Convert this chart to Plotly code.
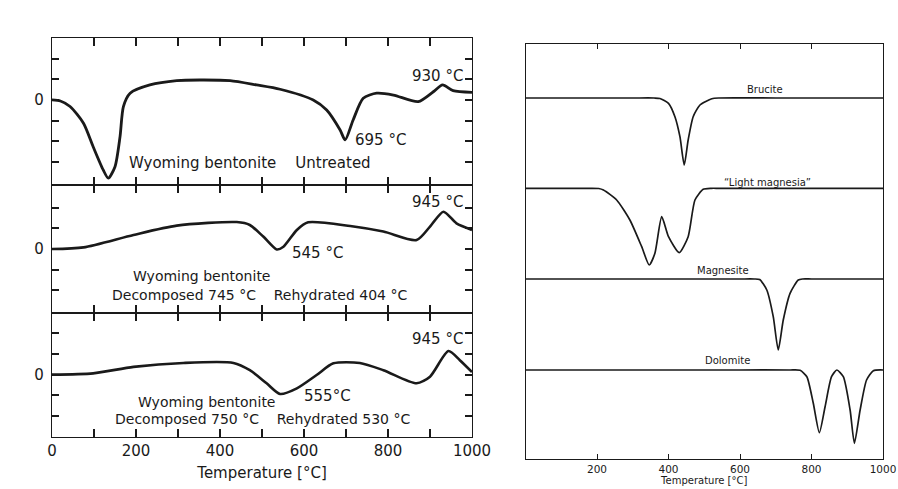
import plotly.graph_objects as go

# ---------------- Left panel: Wyoming bentonite DTA curves ----------------
untreated_t = [0, 20, 43, 75, 98, 122, 134, 150, 162, 170, 186, 233, 297, 352, 424, 487,
               543, 622, 654, 686, 698, 717, 741, 773, 813, 872, 908, 930, 955, 1000]
untreated_v = [0, -0.05, -0.32, -1.13, -2.27, -3.4, -3.8, -3.24, -1.78, -0.32, 0.33, 0.73, 0.94, 0.97, 0.94, 0.73,
               0.52, 0.0, -0.49, -1.46, -1.94, -0.97, 0.08, 0.33, 0.24, -0.08, 0.4, 0.73, 0.45, 0.37]

dec745_t = [0, 75, 194, 297, 440, 471, 503, 535, 551, 583, 610, 710, 789, 868, 900, 932, 963, 1000]
dec745_v = [0, 0.08, 0.68, 1.13, 1.3, 1.16, 0.6, -0.02, 0.11, 0.92, 1.29, 1.11, 0.84, 0.43, 1.08, 1.8, 1.24, 0.92]

dec750_t = [0, 98, 194, 313, 432, 471, 511, 543, 583, 630, 670, 733, 789, 868, 900, 944, 971, 1000]
dec750_v = [0, 0.06, 0.37, 0.56, 0.56, 0.21, -0.42, -0.93, -0.66, -0.02, 0.54, 0.56, 0.21, -0.42, -0.1, 1.13, 0.69, 0.12]

# ---------------- Right panel: reference minerals ----------------
brucite_t = [0, 150, 300, 360, 376, 400, 418, 432, 444, 455, 469, 488, 521, 540, 700, 1000]
brucite_v = [361, 361, 361, 361, 360.5, 355.7, 342.3, 322.3, 294, 319, 342.3, 354, 360.2, 361, 361, 361]

magnesia_t = [0, 100, 180, 205, 218, 255, 292, 325, 346, 362, 381, 400, 430, 455, 474, 497, 520, 540, 700, 1000]
magnesia_v = [270.7, 270.7, 270.7, 270.5, 269, 259, 239, 212.3, 194, 205.7, 242.3, 222.3, 206.3, 222.3,
              259, 269.7, 270.7, 270.7, 270.7, 270.7]

magnesite_t = [0, 200, 400, 600, 640, 655, 675, 693, 707, 721, 740, 763, 775, 800, 1000]
magnesite_v = [180, 180, 180, 180, 180, 179.5, 169, 142.3, 109, 139, 165.7, 179, 180, 180, 180]

dolomite_t = [0, 200, 400, 600, 740, 768, 787, 805, 822, 838, 856, 871, 889, 908, 920, 936, 954, 973, 1000]
dolomite_v = [89, 89, 89, 89, 89, 88.7, 82.3, 55.7, 26.3, 52.3, 82.3, 89, 82.3, 49, 15.7, 49, 79, 88.3, 89]

left_ticks = [0, 100, 200, 300, 400, 500, 600, 700, 800, 900, 1000]
left_ticktext = ["0", "", "200", "", "400", "", "600", "", "800", "", "1000"]
right_ticks = [200, 400, 600, 800, 1000]
right_ticktext = ["200", "400", "600", "800", "1000"]

FONT = "DejaVu Sans"
INK = "#1a1a1a"

fig = go.Figure()

def add_curve(x, y, xa, ya, width, name, smooth):
    fig.add_trace(go.Scatter(x=x, y=y, xaxis=xa, yaxis=ya, mode="lines", name=name,
                             line=dict(color=INK, width=width, shape="spline", smoothing=smooth),
                             hoverinfo="x+y+name"))

add_curve(untreated_t, untreated_v, "x", "y", 2.8, "Untreated", 0.7)
add_curve(dec745_t, dec745_v, "x2", "y2", 2.6, "Decomposed 745 °C, Rehydrated 404 °C", 0.7)
add_curve(dec750_t, dec750_v, "x3", "y3", 2.6, "Decomposed 750 °C, Rehydrated 530 °C", 0.7)
add_curve(brucite_t, brucite_v, "x4", "y4", 1.7, "Brucite", 0.6)
add_curve(magnesia_t, magnesia_v, "x4", "y4", 1.7, "Light magnesia", 0.6)
add_curve(magnesite_t, magnesite_v, "x4", "y4", 1.7, "Magnesite", 0.6)
add_curve(dolomite_t, dolomite_v, "x4", "y4", 1.7, "Dolomite", 0.6)

# full-window figure; the page's default body margin is removed below
W, H = 898, 489
def dx(a, b):
    return [a / W, b / W]
def dy(top, bot):
    return [1 - bot / H, 1 - top / H]

left_dom = dx(52, 472)
xcommon = dict(range=[0, 1000], showgrid=False, zeroline=False, showline=True, linecolor=INK,
               linewidth=1.2, mirror="ticks", ticks="inside", ticklen=8, tickwidth=1.5,
               tickcolor=INK, tickvals=left_ticks, ticktext=left_ticktext, automargin=False)
ycommon = dict(showgrid=False, zeroline=False, showline=True, linecolor=INK, linewidth=1.2,
               mirror="ticks", ticks="inside", ticklen=7, tickwidth=1.5, tickcolor=INK,
               tickfont=dict(family=FONT, size=15, color=INK), ticklabelstandoff=4, automargin=False)

fig.update_layout(
    width=W, height=H, margin=dict(l=0, r=0, t=0, b=0),
    paper_bgcolor="white", plot_bgcolor="white", showlegend=False,
    font=dict(family=FONT, color=INK),
    xaxis=dict(domain=left_dom, anchor="y", showticklabels=False, **xcommon),
    xaxis2=dict(domain=left_dom, anchor="y2", showticklabels=False, **xcommon),
    xaxis3=dict(domain=left_dom, anchor="y3", showticklabels=True, ticklabeloverflow="allow",
                tickfont=dict(family=FONT, size=15, color=INK),
                title=dict(text="Temperature [°C]", font=dict(family=FONT, size=15, color=INK), standoff=8),
                **xcommon),
    yaxis=dict(domain=dy(38, 185), anchor="x", range=[-4.13, 3.01],
               tickvals=[-3, -2, -1, 0, 1, 2], ticktext=["", "", "", "0", "", ""], **ycommon),
    yaxis2=dict(domain=dy(185, 313), anchor="x2", range=[-3.09, 3.09],
                tickvals=[-2, -1, 0, 1, 2], ticktext=["", "", "0", "", ""], **ycommon),
    yaxis3=dict(domain=dy(313, 437), anchor="x3", range=[-3.0, 2.96],
                tickvals=[-2, -1, 0, 1, 2], ticktext=["", "", "0", "", ""], **ycommon),
    xaxis4=dict(domain=dx(525.5, 883), anchor="y4", range=[0, 1000], showgrid=False, zeroline=False,
                showline=True, linecolor=INK, linewidth=1.3, mirror="ticks", ticks="inside",
                ticklen=5, tickwidth=1.3, tickcolor=INK, tickvals=right_ticks, ticktext=right_ticktext,
                tickfont=dict(family=FONT, size=10.5, color=INK), automargin=False,
                ticklabeloverflow="allow",
                title=dict(text="Temperature [°C]", font=dict(family=FONT, size=10, color=INK), standoff=2)),
    yaxis4=dict(domain=dy(44, 459), anchor="x4", range=[0, 415], showgrid=False, zeroline=False,
                showline=True, linecolor=INK, linewidth=1.3, mirror=True, ticks="", showticklabels=False,
                automargin=False),
)

def note(text, x, y, xref, yref, size):
    fig.add_annotation(text=text, x=x, y=y, xref=xref, yref=yref, showarrow=False,
                       font=dict(family=FONT, size=size, color=INK), xanchor="center", yanchor="middle")

note("930 °C", 917, 1.17, "x", "y", 15)
note("695 °C", 781, -1.94, "x", "y", 15)
note("Wyoming bentonite    Untreated", 471, -3.06, "x", "y", 15)
note("945 °C", 917, 2.27, "x2", "y2", 15)
note("545 °C", 631, -0.19, "x2", "y2", 15)
note("Wyoming bentonite", 355, -1.30, "x2", "y2", 14)
note("Decomposed 745 °C    Rehydrated 404 °C", 494, -2.2, "x2", "y2", 14)
note("945 °C", 917, 1.71, "x3", "y3", 15)
note("555°C", 657, -1.04, "x3", "y3", 15)
note("Wyoming bentonite", 369, -1.33, "x3", "y3", 14)
note("Decomposed 750 °C    Rehydrated 530 °C", 501, -2.14, "x3", "y3", 14)

note("Brucite", 670, 369, "x4", "y4", 10)
note("“Light magnesia”", 676, 276, "x4", "y4", 10)
note("Magnesite", 552, 189, "x4", "y4", 10)
note("Dolomite", 566, 99, "x4", "y4", 10)

fig.write_html("out.html", config={"displayModeBar": False},
               post_script="document.body.style.margin='0';document.body.style.overflow='hidden';")
